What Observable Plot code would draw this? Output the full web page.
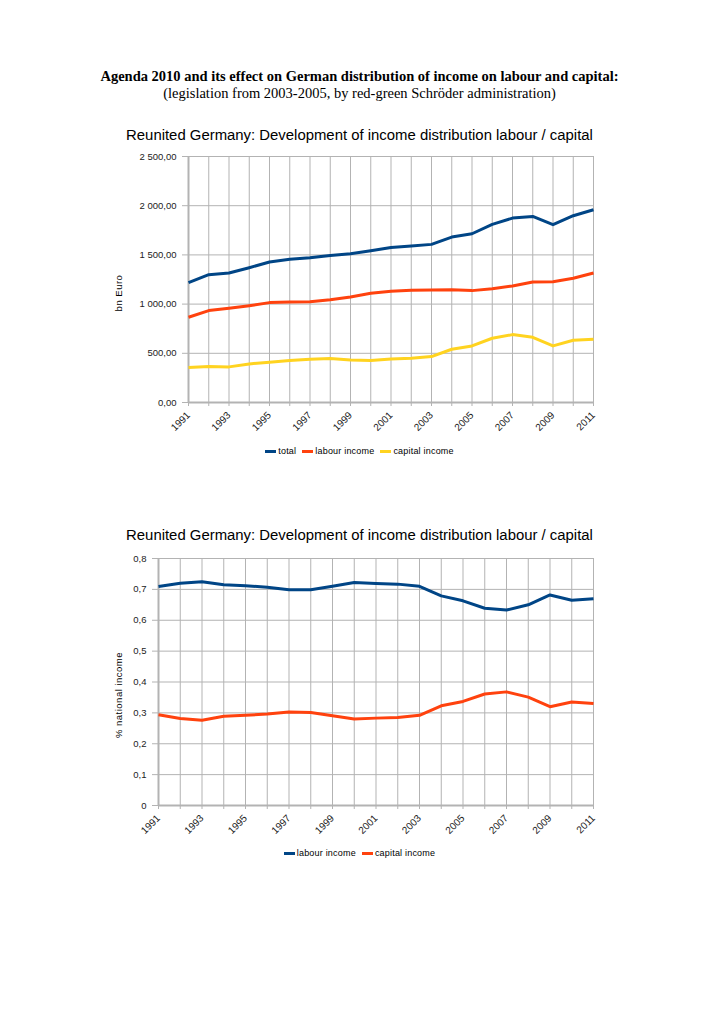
<!DOCTYPE html>
<html><head><meta charset="utf-8">
<script src="https://cdn.jsdelivr.net/npm/d3@7"></script>
<script src="https://cdn.jsdelivr.net/npm/@observablehq/plot@0.6"></script>
<style>
body{margin:0;background:#fff;width:719px;height:1017px;position:relative;overflow:hidden;font-family:"Liberation Sans",Arial,sans-serif;color:#000;}
.abs{position:absolute;}
.maintitle{left:0;width:719px;text-align:center;font-family:"Liberation Serif","Times New Roman",serif;font-size:14.5px;line-height:17px;}
.ctitle{left:0;width:719px;text-align:center;font-size:14.9px;line-height:18px;}
.ylab{font-size:9.5px;letter-spacing:0.5px;white-space:nowrap;transform:translate(-50%,-50%) rotate(-90deg);}
.legend{left:0;width:719px;display:flex;justify-content:center;align-items:center;font-size:9px;letter-spacing:0.2px;}
.item{display:flex;align-items:center;margin:0 3px;}
.sw{display:inline-block;width:11px;height:3px;margin-right:2px;}
svg{overflow:visible;}
</style></head><body>
<div class="abs maintitle" style="top:68px"><b>Agenda 2010 and its effect on German distribution of income on labour and capital:</b></div>
<div class="abs maintitle" style="top:85px">(legislation from 2003-2005, by red-green Schröder administration)</div>
<div class="abs ctitle" style="top:126px">Reunited Germany: Development of income distribution labour / capital</div>
<div class="abs ctitle" style="top:526px">Reunited Germany: Development of income distribution labour / capital</div>
<div id="c1" class="abs" style="left:0;top:146px"></div>
<div id="c2" class="abs" style="left:0;top:548px"></div>
<div class="abs ylab" style="left:118px;top:293px">bn Euro</div>
<div class="abs ylab" style="left:118px;top:695px">% national income</div>
<div id="lg1" class="abs legend" style="top:446px"></div>
<div id="lg2" class="abs legend" style="top:848px"></div>
<script>
// ---- data ----
const years = [1991,1992,1993,1994,1995,1996,1997,1998,1999,2000,2001,2002,2003,2004,2005,2006,2007,2008,2009,2010,2011];
const xTickLabels = ["1991","","1993","","1995","","1997","","1999","","2001","","2003","","2005","","2007","","2009","","2011"];

// chart 1: bn Euro
const total   = [1218,1299,1316,1370,1428,1455,1472,1495,1512,1543,1576,1590,1607,1681,1715,1810,1874,1891,1807,1898,1959];
const labour1 = [866,934,957,984,1015,1022,1025,1045,1072,1110,1130,1140,1143,1147,1137,1157,1184,1225,1228,1262,1316];
const capital1= [355,365,362,392,409,426,440,447,433,426,443,450,467,541,575,653,690,663,575,633,643];
const y1Ticks = [0,500,1000,1500,2000,2500];
const series1 = ["total","labour income","capital income"];
const colors1 = ["#004586","#ff420e","#ffd320"];

// chart 2: share of national income
const labour2 = [0.709,0.720,0.725,0.715,0.712,0.707,0.699,0.699,0.710,0.722,0.719,0.717,0.710,0.679,0.663,0.639,0.633,0.650,0.682,0.665,0.670];
const capital2= [0.294,0.282,0.276,0.289,0.292,0.296,0.303,0.301,0.291,0.280,0.283,0.285,0.292,0.323,0.337,0.361,0.368,0.351,0.320,0.335,0.330];
const y2Ticks = [0,0.1,0.2,0.3,0.4,0.5,0.6,0.7,0.8];
const series2 = ["labour income","capital income"];
const colors2 = ["#004586","#ff420e"];

// ---- helpers ----
const grid = "#b3b3b3";
const de = d3.formatLocale({decimal:",", thousands:"\u00a0", grouping:[3], currency:["","€"]});
const fmt1 = de.format(",.2f");
const fmt2 = d => d === 0 ? "0" : de.format(".1f")(d);

function tidy(names, arrays){
  const out = [];
  names.forEach((n,i) => years.forEach((y,j) => out.push({series:n, year:y, value:arrays[i][j]})));
  return out;
}

function chart({height, mt, mb, ml, mr, yDomain, yTicks, yFmt, names, arrays, colors}){
  return Plot.plot({
    width: 719, height,
    marginTop: mt, marginBottom: mb, marginLeft: ml, marginRight: mr,
    style: {fontFamily: "'Liberation Sans', Arial, sans-serif", fontSize: "9px", background: "transparent", color: "#222"},
    x: {domain: [years[0], years[years.length-1]]},
    y: {domain: yDomain},
    color: {domain: names, range: colors},
    marks: [
      Plot.ruleX(years, {x: d => d, stroke: grid, strokeWidth: 1}),
      Plot.ruleY(yTicks, {y: d => d, stroke: grid, strokeWidth: 1}),
      Plot.ruleY([yDomain[0]], {y: d => d, stroke: grid, strokeWidth: 2}),
      Plot.ruleX([years[0]], {x: d => d, stroke: grid, strokeWidth: 2}),
      Plot.axisY({ticks: yTicks, tickFormat: yFmt, tickSize: 6, tickPadding: 6, stroke: grid, fill: "#222", fontSize: 9.5, label: null}),
      Plot.axisX({ticks: years, tickFormat: d => xTickLabels[years.indexOf(d)], tickSize: 4, tickPadding: 7, tickRotate: -45, stroke: grid, fill: "#222", fontSize: 10, label: null}),
      Plot.line(tidy(names, arrays), {x: "year", y: "value", stroke: "series", strokeWidth: 3, strokeLinejoin: "round", strokeLinecap: "butt"})
    ]
  });
}

document.getElementById("c1").append(chart({
  height: 330, mt: 10, mb: 74, ml: 188, mr: 126,
  yDomain: [0, 2500], yTicks: y1Ticks, yFmt: fmt1,
  names: series1, arrays: [total, labour1, capital1], colors: colors1
}));
document.getElementById("c2").append(chart({
  height: 327, mt: 10, mb: 70, ml: 158, mr: 126,
  yDomain: [0, 0.8], yTicks: y2Ticks, yFmt: fmt2,
  names: series2, arrays: [labour2, capital2], colors: colors2
}));

function legend(id, names, colors){
  const el = document.getElementById(id);
  names.forEach((n,i) => {
    const it = document.createElement("div"); it.className = "item";
    const sw = document.createElement("span"); sw.className = "sw"; sw.style.background = colors[i];
    const tx = document.createElement("span"); tx.textContent = n;
    it.append(sw, tx); el.append(it);
  });
}
legend("lg1", series1, colors1);
legend("lg2", series2, colors2);
</script>
</body></html>
